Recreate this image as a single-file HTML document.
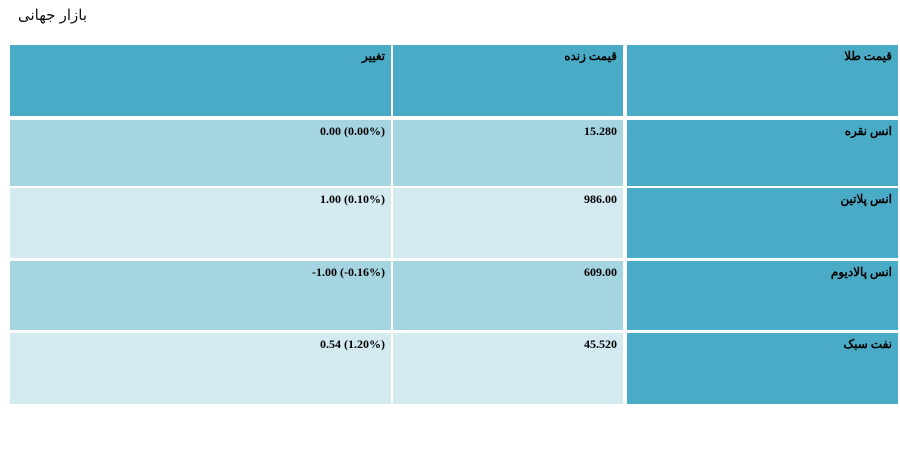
<!DOCTYPE html>
<html><head><meta charset="utf-8">
<style>
body{margin:0;width:900px;height:459px;background:#fff;position:relative;overflow:hidden}
.t{position:absolute;left:18px;top:6px;font:15px "Liberation Sans","Noto Sans CJK SC",sans-serif;color:#111;direction:rtl}
.c{position:absolute;box-sizing:border-box;padding:4px 6px 0 6px;text-align:right;direction:rtl;font:bold 12px "Liberation Serif","Noto Serif CJK SC",serif;color:#000}
.h{background:#4aabc6}.d{background:#a6d5e2}.l{background:#d3eaf1}
</style></head><body>
<div class="t">بازار جهانی</div>
<div id="tbl"></div>
<script>
const rowsLabels=["انس نقره","انس پلاتین","انس پالادیوم","نفت سبک"];
const prices=["15.280","986.00","609.00","45.520"];
const changes=["0.00 (0.00%)","1.00 (0.10%)","-1.00 (-0.16%)","0.54 (1.20%)"];
const headers=["قیمت طلا","قیمت زنده","تغییر"];
const cols=[[627,271],[393,230],[10,381]];
const rowY=[[120,66],[188,70],[261,69],[333,71]];
const tbl=document.getElementById('tbl');
function cell(x,y,w,h,cls,txt,name){
 const d=document.createElement('div');
 d.className='c '+cls;
 d.style.cssText=`left:${x}px;top:${y}px;width:${w}px;height:${h}px`;
 d.textContent=txt;
 
 
 tbl.appendChild(d);
}
headers.forEach((h,i)=>cell(cols[i][0],45,cols[i][1],71,'h',h,'header-cell'));
rowsLabels.forEach((r,i)=>{
 const cls=i%2===0?'d':'l';
 const [y,h]=rowY[i];
 cell(cols[0][0],y,cols[0][1],h,'h',r,'row-label');
 cell(cols[1][0],y,cols[1][1],h,cls,prices[i],'price-cell');
 const c=document.createElement('span');
 cell(cols[2][0],y,cols[2][1],h,cls,'','change-cell');
 const last=tbl.lastChild;last.style.direction='ltr';last.textContent=changes[i];
});
</script>
</body></html>
